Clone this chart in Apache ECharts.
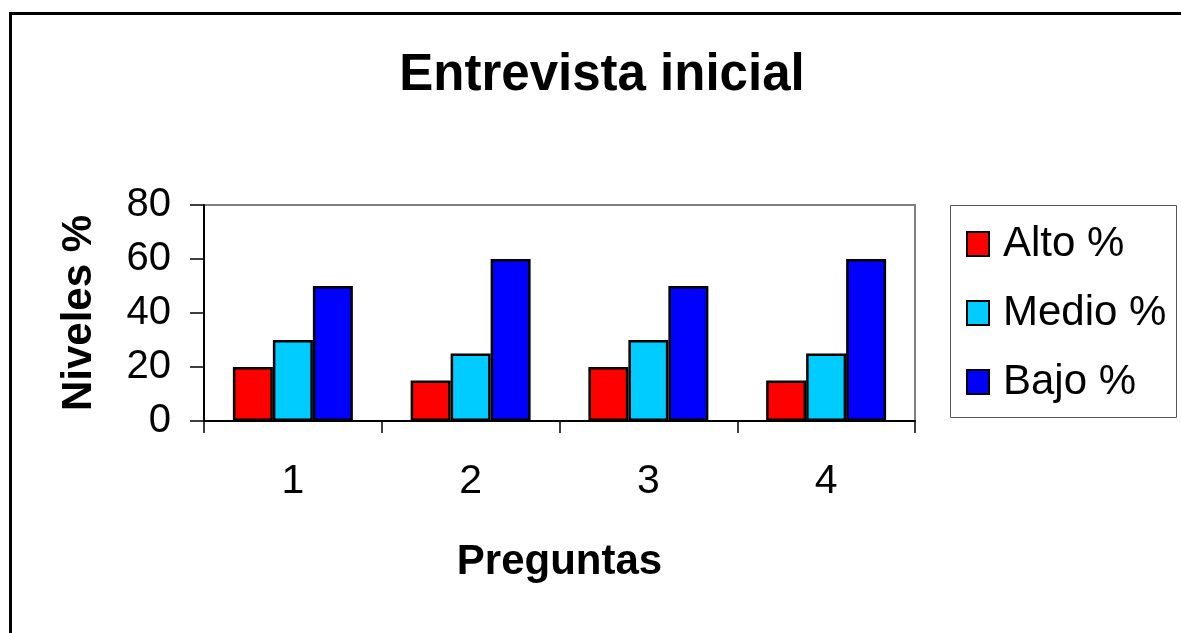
<!DOCTYPE html>
<html>
<head>
<meta charset="utf-8">
<script src="https://cdn.jsdelivr.net/npm/echarts@6/dist/echarts.min.js"></script>
<style>
html,body{margin:0;padding:0;background:#fff;}
#chart{width:1181px;height:633px;}
</style>
</head>
<body>
<div id="chart"></div>
<script>
var titleText = 'Entrevista inicial';
var categories = ['1', '2', '3', '4'];
var seriesNames = ['Alto %', 'Medio %', 'Bajo %'];
var alto = [20, 15, 20, 15];
var medio = [30, 25, 30, 25];
var bajo = [50, 60, 50, 60];
var colors = ['#FF0000', '#00CCFF', '#0000FF'];
var xName = 'Preguntas';
var yName = 'Niveles %';

var FONT = '"Liberation Sans", Arial, sans-serif';
var chart = echarts.init(document.getElementById('chart'));
var values = [alto, medio, bajo];

var option = {
  backgroundColor: '#ffffff',
  animation: false,
  title: {
    text: titleText,
    left: 597, textAlign: 'center',
    top: 45,
    textStyle: {fontFamily: FONT, fontSize: 51, fontWeight: 'bold', color: '#000'}
  },
  graphic: [
    {type: 'rect', shape: {x: 10.5, y: 13.5, width: 1300, height: 800},
     style: {fill: 'none', stroke: '#000', lineWidth: 3}, z: 100},
    {type: 'rect', shape: {x: 950.5, y: 205.5, width: 226, height: 212},
     style: {fill: '#fff', stroke: '#555', lineWidth: 1}, z: 0}
  ],
  legend: {
    orient: 'vertical',
    left: 966, top: 221,
    padding: 0,
    itemWidth: 22, itemHeight: 24,
    itemGap: 23,
    icon: 'rect',
    data: seriesNames,
    textStyle: {fontFamily: FONT, fontSize: 42, color: '#000', lineHeight: 46, padding: [0, 0, 0, 9]}
  },
  grid: {
    left: 204, top: 205, right: 266, bottom: 212,
    show: true, borderColor: '#808080', borderWidth: 2, backgroundColor: '#fff'
  },
  xAxis: {
    type: 'category',
    data: categories,
    name: xName,
    nameLocation: 'middle',
    nameGap: 120,
    nameTextStyle: {fontFamily: FONT, fontSize: 42, fontWeight: 'bold', color: '#000'},
    axisLine: {lineStyle: {color: '#000', width: 2}},
    axisTick: {show: true, length: 12, lineStyle: {color: '#000', width: 1.5}},
    axisLabel: {fontFamily: FONT, fontSize: 41, color: '#000', margin: 40}
  },
  yAxis: {
    type: 'value',
    min: 0, max: 80, interval: 20,
    name: yName,
    nameLocation: 'middle',
    nameGap: 104,
    nameRotate: 90,
    nameTextStyle: {fontFamily: FONT, fontSize: 42, fontWeight: 'bold', color: '#000'},
    axisLine: {show: true, lineStyle: {color: '#000', width: 2}},
    axisTick: {show: true, length: 14, lineStyle: {color: '#000', width: 1.5}},
    axisLabel: {fontFamily: FONT, fontSize: 40, color: '#000', margin: 33},
    splitLine: {show: false}
  },
  series: seriesNames.map(function (n, i) {
    return {
      name: n,
      type: 'bar',
      data: values[i],
      barGap: '0%',
      barCategoryGap: '32.5%',
      itemStyle: {color: colors[i], borderColor: '#000', borderWidth: 2.5}
    };
  })
};
chart.setOption(option);
</script>
</body>
</html>
